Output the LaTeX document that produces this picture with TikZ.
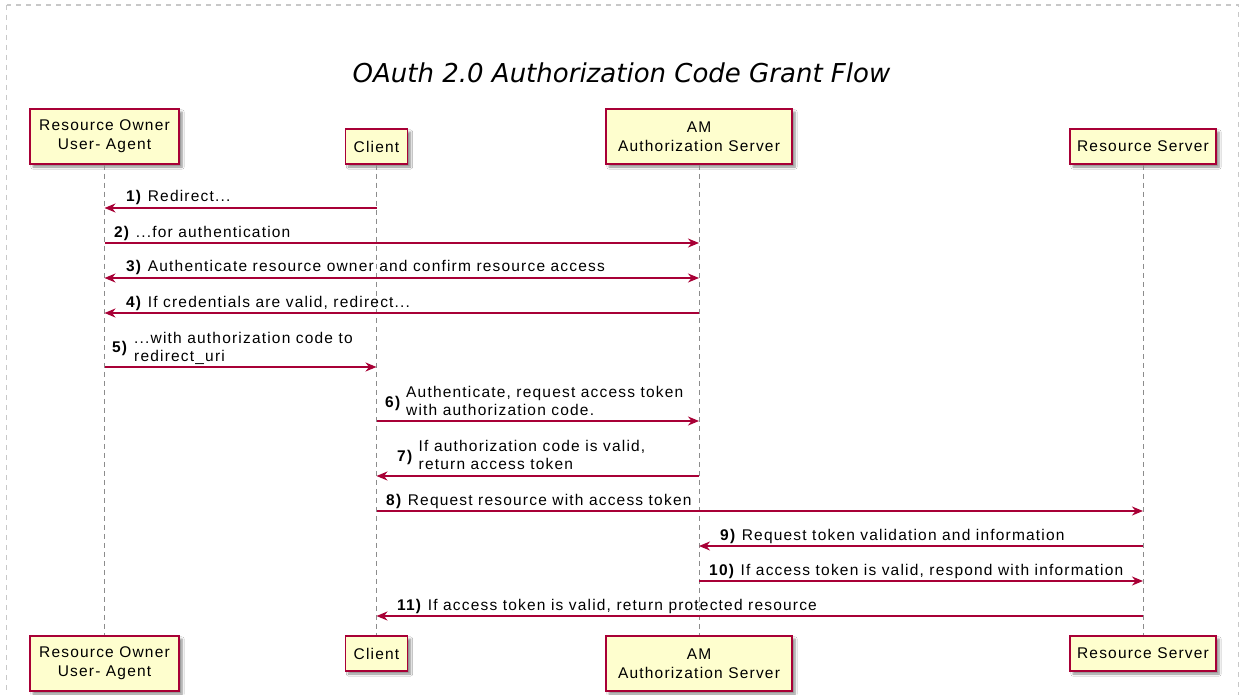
\documentclass[tikz,border=0pt]{standalone}
\usepackage{fontspec}
\setmainfont{Liberation Sans}[LetterSpace=7.7]
\newfontfamily\titlefont{DejaVu Sans}
\usetikzlibrary{arrows.meta,shadows.blur}
\definecolor{puml}{HTML}{A80036}
\definecolor{pfill}{HTML}{FEFECE}
\definecolor{lifec}{HTML}{8C8C8C}
\definecolor{framec}{HTML}{C8C8C8}
\tikzset{ptip/.tip={Stealth[length=11pt,width=9pt,inset=3.5pt]}}
\begin{document}
\begin{tikzpicture}[x=1pt,y=-1pt,
 part/.style={draw=puml, fill=pfill, line width=1.5pt, inner sep=0pt, align=center,
   font=\fontsize{15.5pt}{19pt}\selectfont,
   blur shadow={shadow xshift=3pt, shadow yshift=-3pt, shadow blur steps=6, shadow opacity=45}},
 tall/.style={minimum height=55pt},
 short/.style={minimum height=35pt},
 life/.style={draw=lifec, line width=0.9pt, dash pattern=on 5pt off 4pt},
 msg/.style={draw=puml, line width=1.8pt, -ptip},
 msgb/.style={draw=puml, line width=1.8pt, ptip-ptip},
 lbl/.style={inner sep=0pt, anchor=base west, font=\fontsize{15.5pt}{19pt}\selectfont},
]
\clip (0,0) rectangle (1245,695);
\fill[white] (0,0) rectangle (1245,695);
\draw[framec, line width=1.5pt, dash pattern=on 5pt off 5pt] (6.5,5) rectangle (1238.5,720);

\node[font=\titlefont\itshape\fontsize{26pt}{30pt}\selectfont, anchor=base, inner sep=0pt] (title) at (621.5,82.5) {OAuth 2.0 Authorization Code Grant Flow};

% participants
\node[part, tall, minimum width=149pt] (ro) at (104.5,136.5) {Resource Owner\\User- Agent};
\node[part, short, minimum width=62pt] (cl) at (376.5,146.5) {Client};
\node[part, tall, minimum width=186pt] (am) at (699,136.5) {AM\\Authorization Server};
\node[part, short, minimum width=146pt] (rs) at (1143,146.5) {Resource Server};
\node[part, tall, minimum width=149pt] (rob) at (104.5,663.5) {Resource Owner\\User- Agent};
\node[part, short, minimum width=62pt] (clb) at (376.5,653.5) {Client};
\node[part, tall, minimum width=186pt] (amb) at (699,663.5) {AM\\Authorization Server};
\node[part, short, minimum width=146pt] (rsb) at (1143,653.5) {Resource Server};

% lifelines
\draw[life] (ro.south) -- (rob.north);
\draw[life] (cl.south) -- (clb.north);
\draw[life] (am.south) -- (amb.north);
\draw[life] (rs.south) -- (rsb.north);

% messages
\draw[msg] (cl |- 0,208) -- (ro |- 0,208);
\node[lbl] (t1) at (126,202) {\textbf{1)} Redirect...};

\draw[msg] (ro |- 0,243) -- (am |- 0,243);
\node[lbl] (t2) at (114,237) {\textbf{2)} ...for authentication};

\draw[msgb] (ro |- 0,278) -- (am |- 0,278);
\node[lbl] (t3) at (126,272) {\textbf{3)} Authenticate resource owner and confirm resource access};

\draw[msg] (am |- 0,313) -- (ro |- 0,313);
\node[lbl] (t4) at (126,307) {\textbf{4)} If credentials are valid, redirect...};

\draw[msg] (ro |- 0,367) -- (cl |- 0,367);
\node[lbl] (n5) at (112,352) {\textbf{5)}};
\node[lbl] (t5a) at (134,343) {...with authorization code to};
\node[lbl] (t5b) at (134,361.5) {redirect\_uri};

\draw[msg] (cl |- 0,421) -- (am |- 0,421);
\node[lbl] (n6) at (385,407) {\textbf{6)}};
\node[lbl] (t6a) at (406,397) {Authenticate, request access token};
\node[lbl] (t6b) at (406,415.5) {with authorization code.};

\draw[msg] (am |- 0,476) -- (cl |- 0,476);
\node[lbl] (n7) at (397,461) {\textbf{7)}};
\node[lbl] (t7a) at (418.5,451) {If authorization code is valid,};
\node[lbl] (t7b) at (418.5,469.5) {return access token};

\draw[msg] (cl |- 0,511) -- (rs |- 0,511);
\node[lbl] (t8) at (386,505) {\textbf{8)} Request resource with access token};

\draw[msg] (rs |- 0,546) -- (am |- 0,546);
\node[lbl] (t9) at (720,540) {\textbf{9)} Request token validation and information};

\draw[msg] (am |- 0,581) -- (rs |- 0,581);
\node[lbl] (t10) at (709,575) {\textbf{10)} If access token is valid, respond with information};

\draw[msg] (rs |- 0,616) -- (cl |- 0,616);
\node[lbl] (t11) at (397,610) {\textbf{11)} If access token is valid, return protected resource};
\end{tikzpicture}
\end{document}
